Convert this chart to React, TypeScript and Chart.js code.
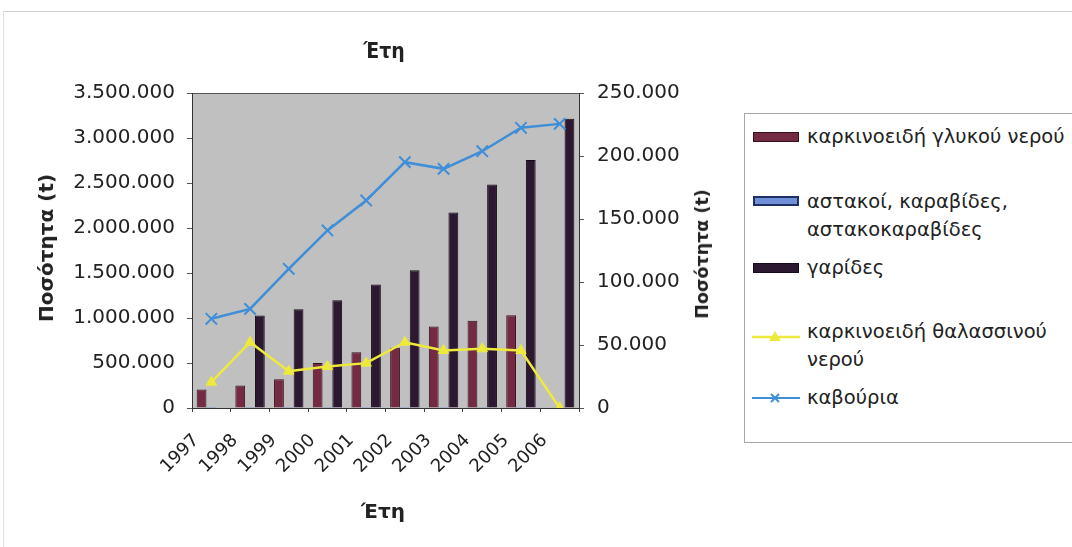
import React, { useEffect, useRef } from "react";
import { Chart, registerables } from "chart.js";

Chart.register(...registerables);

// Years on the category axis
const years = ["1997", "1998", "1999", "2000", "2001", "2002", "2003", "2004", "2005", "2006"];

// Bar series (left axis, tonnes)
const freshwaterCrustaceans = [205000, 250000, 320000, 500000, 620000, 670000, 905000, 970000, 1030000, null];
const lobsters = [1500, 1600, 1800, 2000, 2100, 2300, 2500, 2600, 2800, 3000];
const shrimps = [null, 1029000, 1096000, 1198000, 1372000, 1530000, 2173000, 2484000, 2755000, 3213000];

// Line series (right axis, tonnes)
const marineCrustaceans = [20500, 52200, 29200, 32900, 35600, 52200, 45600, 47000, 45600, 0];
const crabs = [70800, 78700, 110500, 140900, 164700, 195100, 189800, 203800, 222400, 225500];

// Axis ranges
const leftMax = 3500000;
const leftStep = 500000;
const rightMax = 250000;
const rightStep = 50000;

// Labels
const axisTitle = "Ποσότητα (t)";
const yearsTitle = "Έτη";
const nameFreshwater = "καρκινοειδή γλυκού νερού";
const nameLobstersLines = ["αστακοί, καραβίδες,", "αστακοκαραβίδες"];
const nameShrimps = "γαρίδες";
const nameMarineLines = ["καρκινοειδή θαλασσινού", "νερού"];
const nameCrabs = "καβούρια";

const colFreshwater = "#732a42";
const colFreshwaterEdge = "#35101c";
const colLobsters = "#6f8fd6";
const colLobstersEdge = "#1f2f66";
const colShrimps = "#2c1830";
const colShrimpsEdge = "#150a17";
const colMarine = "#eeea3c";
const colCrabs = "#3f8ed8";

const tickFont = "'DejaVu Sans', 'Liberation Sans', sans-serif";

// Greek style thousands separator
const formatThousands = (v: number) =>
  String(Math.round(v)).replace(/\B(?=(\d{3})+(?!\d))/g, ".");

// Grey plot area with a frame along its top edge
const plotFrame = {
  id: "plotFrame",
  beforeDraw(chart: any) {
    const { ctx, chartArea: a } = chart;
    ctx.save();
    ctx.fillStyle = "#c0c0c0";
    ctx.fillRect(a.left, a.top, a.right - a.left, a.bottom - a.top);
    ctx.strokeStyle = "#555";
    ctx.lineWidth = 1;
    ctx.beginPath();
    ctx.moveTo(a.left, a.top + 0.5);
    ctx.lineTo(a.right, a.top + 0.5);
    ctx.stroke();
    ctx.restore();
  },
};

function ComboChart() {
  const ref = useRef<HTMLCanvasElement | null>(null);

  useEffect(() => {
    if (!ref.current) return;
    const chart = new Chart(ref.current, {
      type: "bar",
      data: {
        labels: years,
        datasets: [
          {
            type: "line",
            label: nameMarineLines.join(" "),
            data: marineCrustaceans,
            yAxisID: "y1",
            order: 0,
            borderColor: colMarine,
            backgroundColor: colMarine,
            borderWidth: 2.5,
            pointStyle: "triangle",
            pointRadius: 6,
            pointBorderWidth: 1,
            pointBackgroundColor: colMarine,
            pointBorderColor: colMarine,
            tension: 0,
          } as any,
          {
            type: "line",
            label: nameCrabs,
            data: crabs,
            yAxisID: "y1",
            order: 0,
            borderColor: colCrabs,
            backgroundColor: colCrabs,
            borderWidth: 2.5,
            pointStyle: "crossRot",
            pointRadius: 8,
            pointBorderWidth: 2,
            pointBorderColor: colCrabs,
            tension: 0,
          } as any,
          {
            label: nameFreshwater,
            data: freshwaterCrustaceans,
            yAxisID: "y",
            order: 1,
            backgroundColor: colFreshwater,
            borderColor: colFreshwaterEdge,
            borderWidth: 1,
            categoryPercentage: 0.76,
            barPercentage: 1,
          } as any,
          {
            label: nameLobstersLines.join(" "),
            data: lobsters,
            yAxisID: "y",
            order: 1,
            backgroundColor: colLobsters,
            borderWidth: 0,
            categoryPercentage: 0.76,
            barPercentage: 1,
          } as any,
          {
            label: nameShrimps,
            data: shrimps,
            yAxisID: "y",
            order: 1,
            backgroundColor: colShrimps,
            borderColor: colShrimpsEdge,
            borderWidth: 1,
            categoryPercentage: 0.76,
            barPercentage: 1,
          } as any,
        ],
      },
      options: {
        responsive: false,
        animation: false,
        devicePixelRatio: 1,
        layout: { padding: { left: 0, top: 93, right: 0, bottom: 0 } },
        plugins: {
          legend: { display: false },
          tooltip: { enabled: false },
          title: { display: false },
        },
        scales: {
          x: {
            grid: {
              display: true,
              drawOnChartArea: false,
              drawTicks: true,
              tickLength: 4,
              color: "#444",
              offset: true,
            },
            border: { display: true, color: "#333", width: 1 },
            ticks: {
              autoSkip: false,
              minRotation: 45,
              maxRotation: 45,
              padding: 18,
              labelOffset: -15,
              color: "#222",
              font: { family: tickFont, size: 18 },
            },
            afterFit: (s: any) => {
              s.height = 547 - 408;
            },
          },
          y: {
            position: "left",
            min: 0,
            max: leftMax,
            grid: {
              display: true,
              drawOnChartArea: false,
              drawTicks: true,
              tickLength: 5,
              color: "#555",
            },
            border: { display: true, color: "#333", width: 1 },
            ticks: {
              stepSize: leftStep,
              padding: 12,
              color: "#222",
              font: { family: tickFont, size: 20 },
              callback: (v: any) => formatThousands(Number(v)),
            },
            afterFit: (s: any) => {
              s.width = 192;
            },
          },
          y1: {
            position: "right",
            min: 0,
            max: rightMax,
            grid: {
              display: true,
              drawOnChartArea: false,
              drawTicks: true,
              tickLength: 5,
              color: "#555",
            },
            border: { display: true, color: "#333", width: 1 },
            ticks: {
              stepSize: rightStep,
              padding: 13,
              color: "#222",
              font: { family: tickFont, size: 20 },
              callback: (v: any) => formatThousands(Number(v)),
            },
            afterFit: (s: any) => {
              s.width = 740 - 579;
            },
          },
        },
      } as any,
      plugins: [plotFrame],
    });
    return () => chart.destroy();
  }, []);

  return (
    <canvas
      ref={ref}
      width={740}
      height={547}
      style={{ position: "absolute", left: 0, top: 0, width: 740, height: 547 }}
    />
  );
}

const textStyle: React.CSSProperties = {
  position: "absolute",
  fontFamily: tickFont,
  fontSize: 19.5,
  lineHeight: "28px",
  color: "#222",
  whiteSpace: "nowrap",
};

function BarSwatch({ top, fill, edge, edgeWidth }: { top: number; fill: string; edge: string; edgeWidth: number }) {
  return (
    <div
      style={{
        position: "absolute",
        left: 753,
        top,
        width: 46,
        height: 10,
        boxSizing: "border-box",
        background: fill,
        border: `${edgeWidth}px solid ${edge}`,
      }}
    />
  );
}

function Legend() {
  return (
    <>
      <div
        style={{
          position: "absolute",
          left: 744,
          top: 113,
          width: 340,
          height: 330,
          boxSizing: "border-box",
          border: "1px solid #a8a8a8",
          background: "#fff",
        }}
      />
      <BarSwatch top={132} fill={colFreshwater} edge={colFreshwaterEdge} edgeWidth={1} />
      <div style={{ ...textStyle, left: 807, top: 123 }}>{nameFreshwater}</div>

      <BarSwatch top={196} fill={colLobsters} edge={colLobstersEdge} edgeWidth={2} />
      <div style={{ ...textStyle, left: 807, top: 188 }}>
        {nameLobstersLines[0]}
        <br />
        {nameLobstersLines[1]}
      </div>

      <BarSwatch top={263} fill={colShrimps} edge={colShrimpsEdge} edgeWidth={1} />
      <div style={{ ...textStyle, left: 807, top: 254 }}>{nameShrimps}</div>

      <svg style={{ position: "absolute", left: 750, top: 320 }} width={52} height={90}>
        <line x1={2} y1={17} x2={50} y2={17} stroke={colMarine} strokeWidth={2.5} />
        <polygon points="25,11 31,21 19,21" fill={colMarine} />
        <line x1={2} y1={78} x2={50} y2={78} stroke={colCrabs} strokeWidth={2} />
        <line x1={21} y1={74} x2={29} y2={82} stroke={colCrabs} strokeWidth={2} />
        <line x1={29} y1={74} x2={21} y2={82} stroke={colCrabs} strokeWidth={2} />
      </svg>
      <div style={{ ...textStyle, left: 807, top: 318 }}>
        {nameMarineLines[0]}
        <br />
        {nameMarineLines[1]}
      </div>
      <div style={{ ...textStyle, left: 807, top: 384 }}>{nameCrabs}</div>
    </>
  );
}

const titleStyle: React.CSSProperties = {
  position: "absolute",
  fontFamily: tickFont,
  fontWeight: "bold",
  color: "#222",
  whiteSpace: "nowrap",
  transform: "translate(-50%, -50%)",
};

export default function App() {
  return (
    <div
      style={{
        position: "fixed",
        left: 0,
        top: 0,
        width: 1072,
        height: 547,
        overflow: "hidden",
        background: "#fff",
      }}
    >
      <div
        style={{
          position: "absolute",
          left: 3,
          top: 11,
          width: 1072,
          height: 600,
          borderTop: "1px solid #d0d0d0",
          borderLeft: "1px solid #e0e0e0",
        }}
      />
      <ComboChart />
      <div
        style={{
          ...titleStyle,
          left: 384,
          top: 51,
          fontSize: 21,
          fontFamily: "'DejaVu Sans Condensed', 'Liberation Sans Narrow', sans-serif",
        }}
      >
        {yearsTitle}
      </div>
      <div style={{ ...titleStyle, left: 383, top: 511, fontSize: 20 }}>{yearsTitle}</div>
      <div style={{ ...titleStyle, left: 46, top: 248, fontSize: 20, transform: "translate(-50%, -50%) rotate(-90deg)" }}>
        {axisTitle}
      </div>
      <div style={{ ...titleStyle, left: 702, top: 254, fontSize: 17.5, transform: "translate(-50%, -50%) rotate(-90deg)" }}>
        {axisTitle}
      </div>
      <Legend />
    </div>
  );
}
